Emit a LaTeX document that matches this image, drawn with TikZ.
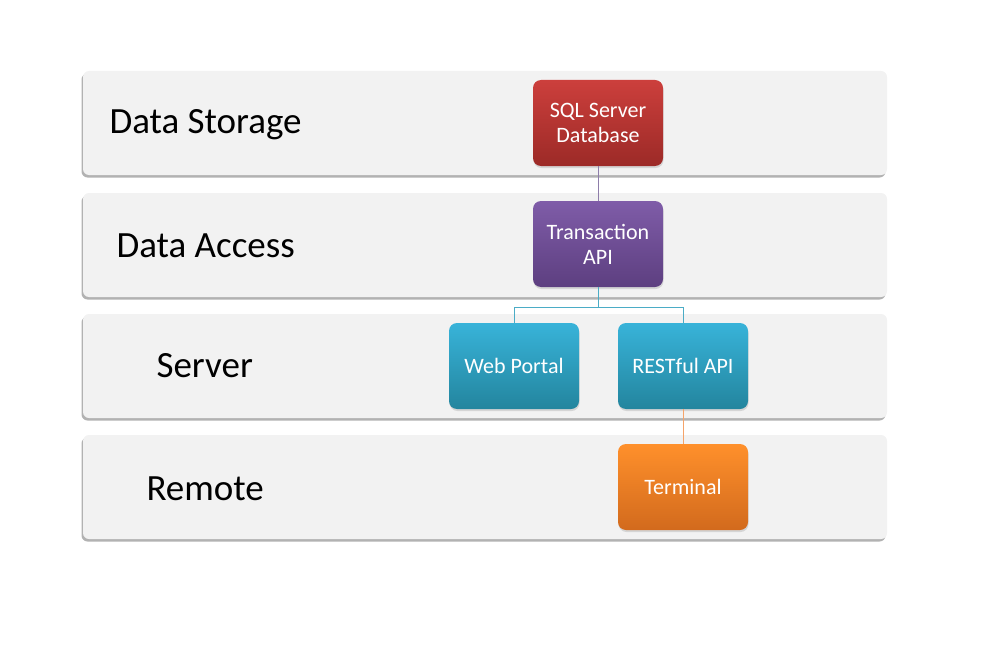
\documentclass[tikz,border=0pt]{standalone}
\usepackage{fontspec}
\setmainfont{Carlito}
\usetikzlibrary{shadows}

\definecolor{bandGray}{HTML}{F2F2F2}
\definecolor{redTop}{HTML}{CC3F3C}
\definecolor{redBottom}{HTML}{9C2A27}
\definecolor{purpleTop}{HTML}{7F5CA8}
\definecolor{purpleBottom}{HTML}{5D3F80}
\definecolor{blueTop}{HTML}{38B3D9}
\definecolor{blueBottom}{HTML}{23859E}
\definecolor{orangeTop}{HTML}{FF902B}
\definecolor{orangeBottom}{HTML}{D26A1D}
\definecolor{purpleLink}{HTML}{8E7DAA}
\definecolor{blueLink}{HTML}{4BACC6}
\definecolor{orangeLink}{HTML}{F5A46A}

\begin{document}
\begin{tikzpicture}[x=1pt, y=-1pt,
    layer/.style={fill=bandGray, rounded corners=6pt,
      drop shadow={shadow xshift=-1.5pt, shadow yshift=-2.5pt, opacity=0.55, fill=black!55}},
    layerLabel/.style={anchor=west, font=\fontsize{37}{42}\selectfont},
    tile/.style={rounded corners=8pt, minimum width=130pt, minimum height=86pt,
      align=center, text=white, font=\fontsize{22}{25}\selectfont,
      drop shadow={shadow xshift=0.5pt, shadow yshift=-2pt, opacity=0.25}},
    link/.style={line width=1pt}]
  \useasboundingbox (0, 0) rectangle (993, 650);
  %
  \newcommand{\bandWidth}{804}
  \newcommand{\bandHeight}{104}
  %
  \foreach \y in {71, 193, 314, 435} {
    \path[layer] (83, \y) rectangle ++(\bandWidth, \bandHeight);
  }
  %
  \node[layerLabel] at (106, 125) (storageLabel) {Data Storage};
  \node[layerLabel] at (113, 246) (accessLabel) {Data Access};
  \node[layerLabel] at (153, 366) (serverLabel) {Server};
  \node[layerLabel] at (143, 489) (remoteLabel) {Remote};
  %
  \node[tile, top color=redTop, bottom color=redBottom] at (598, 123) (sqlDb) {SQL Server\\Database};
  \node[tile, top color=purpleTop, bottom color=purpleBottom] at (598, 244) (transApi) {Transaction\\API};
  \node[tile, top color=blueTop, bottom color=blueBottom] at (514, 366) (webPortal) {Web Portal};
  \node[tile, top color=blueTop, bottom color=blueBottom] at (683, 366) (restApi) {RESTful API};
  \node[tile, top color=orangeTop, bottom color=orangeBottom] at (683, 487) (terminal) {Terminal};
  %
  \draw[link, purpleLink] (sqlDb) -- (transApi);
  \draw[link, blueLink] (transApi.south) -- ++(0, 20) coordinate (split) -| (webPortal.north);
  \draw[link, blueLink] (split) -| (restApi.north);
  \draw[link, orangeLink] (restApi) -- (terminal);

\end{tikzpicture}
\end{document}
